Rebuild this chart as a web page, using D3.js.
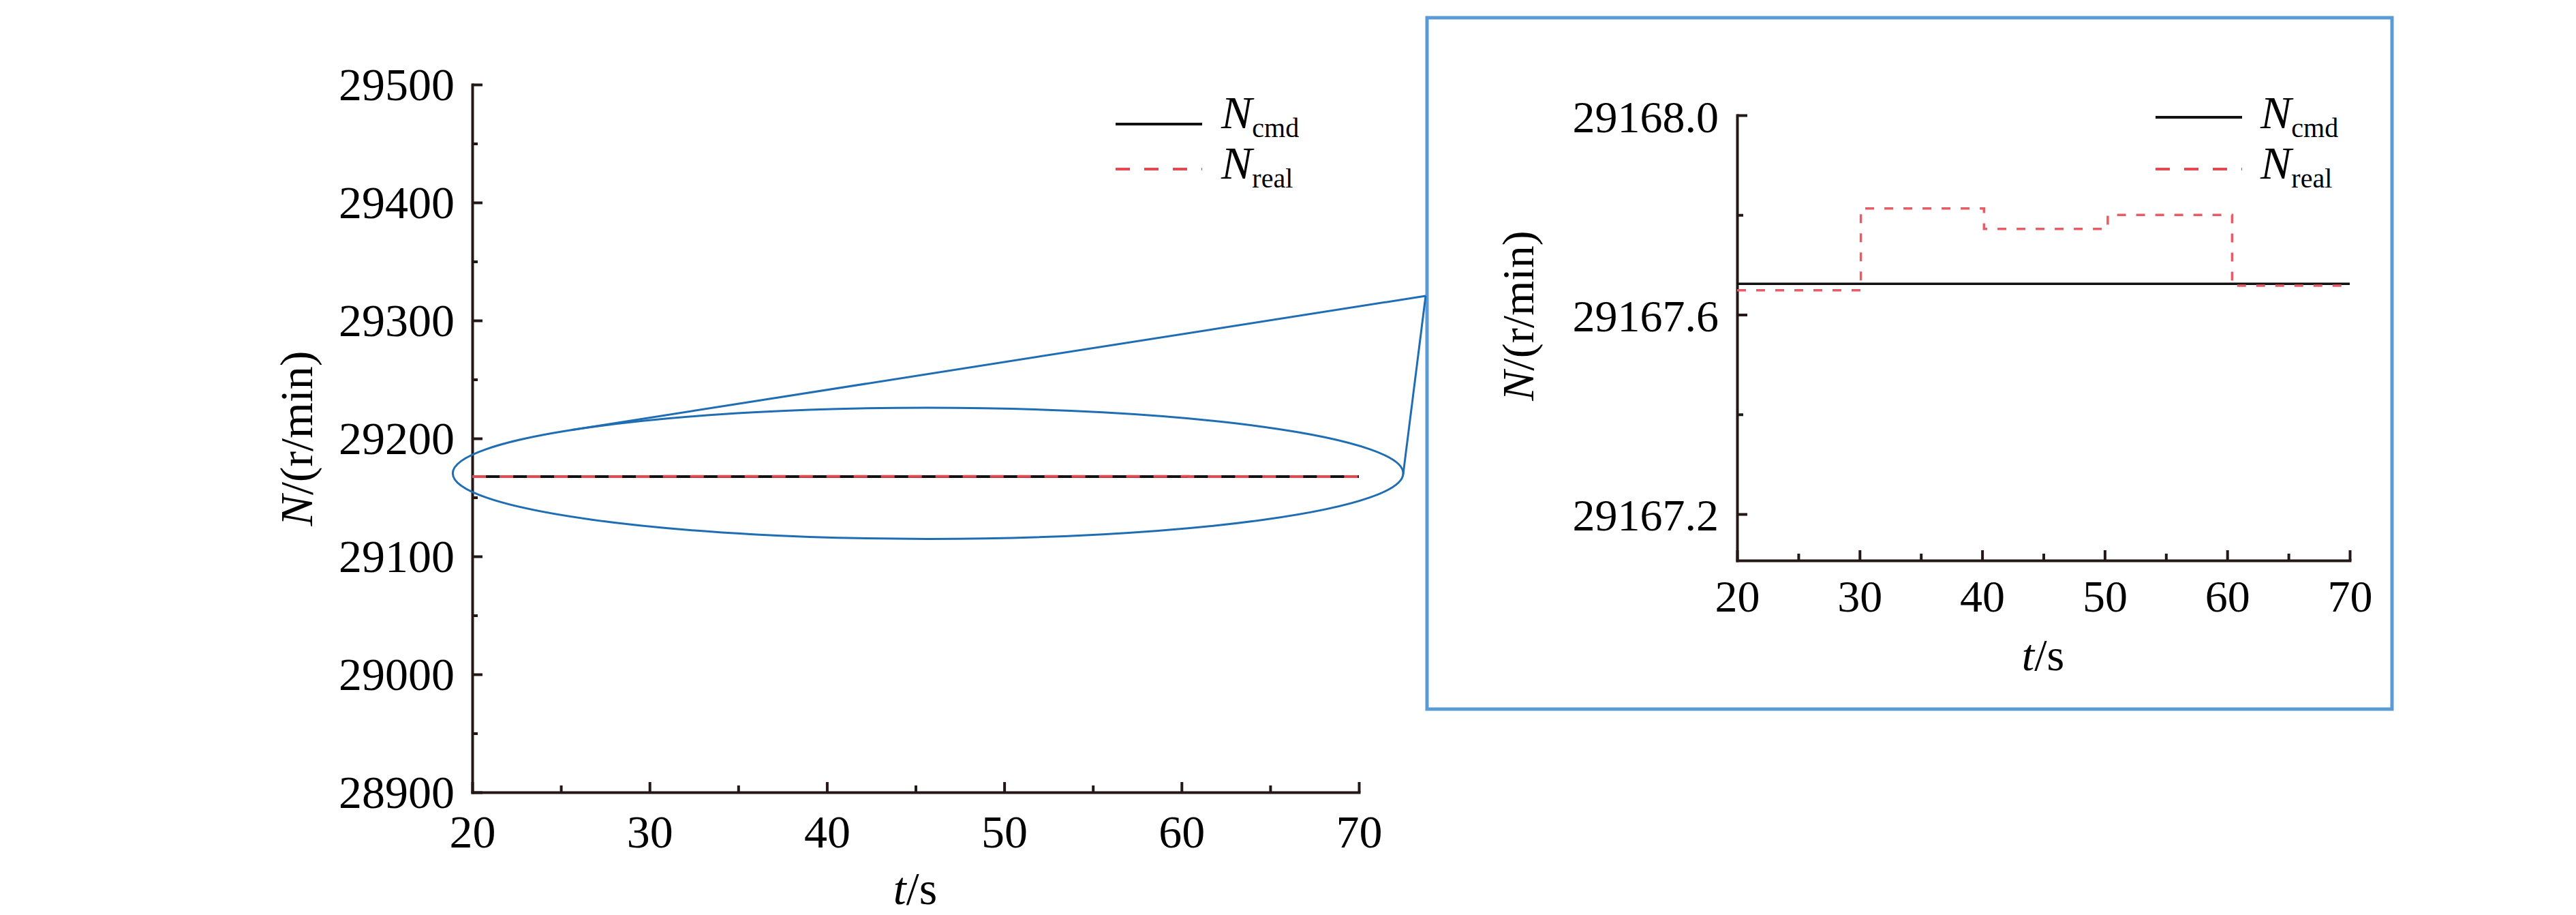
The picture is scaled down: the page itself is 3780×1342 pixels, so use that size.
<!DOCTYPE html>
<html>
<head>
<meta charset="utf-8">
<script src="https://cdn.jsdelivr.net/npm/d3@7/dist/d3.min.js"></script>
<style>
  body { margin: 0; background: #fff; }
</style>
</head>
<body>
<svg id="chart"></svg>
<script>
// data
const timeCmd = [20, 70];
const speedCmd = [29167.662, 29167.662];
const timeReal = [20, 30.1, 40.15, 50.25, 60.4, 70];
const speedReal = [29167.649, 29167.813, 29167.772, 29167.800, 29167.658, 29167.658];

const xTicks = [20, 30, 40, 50, 60, 70];
const xMinor = [25, 35, 45, 55, 65];
const mainYTicks = [28900, 29000, 29100, 29200, 29300, 29400, 29500];
const mainYMinor = [28950, 29050, 29150, 29250, 29350, 29450];
const insetYTicks = [29167.2, 29167.6, 29168.0];
const insetYMinor = [29167.4, 29167.8];

const seriesNames = ['N', 'N'];
const seriesSubs = ['cmd', 'real'];

// zoom ellipse in data units (main chart)
const zoomCenter = [45.7, 29170.4];
const zoomRadius = [26.8, 55.6];

const W = 3780, H = 1342;
const FONT = '"Liberation Serif", "Times New Roman", Times, "DejaVu Serif", serif';
const AXIS = '#231815';
const RED = '#e5484f';
const BLUE = '#1f6db3';

const svg = d3.select('#chart').attr('width', W).attr('height', H);

const cmdData = timeCmd.map((t, i) => ({t: t, v: speedCmd[i]}));
const realData = timeReal.map((t, i) => ({t: t, v: speedReal[i]}));

function drawPanel(cfg) {
    const xs = d3.scaleLinear().domain([20, 70]).range(cfg.xr);
    const ys = d3.scaleLinear().domain(cfg.yd).range(cfg.yr);
    const g = svg.append('g');

    // minor ticks first
    g.append('g')
        .attr('transform', `translate(0, ${cfg.yr[0]})`)
        .call(d3.axisBottom(xs).tickValues(xMinor).tickSize(-cfg.minorX).tickFormat(''))
        .call(a => a.select('.domain').remove())
        .call(a => a.selectAll('line').attr('stroke', AXIS).attr('stroke-width', 4));

    g.append('g')
        .attr('transform', `translate(${cfg.xr[0]}, 0)`)
        .call(d3.axisLeft(ys).tickValues(cfg.yMinor).tickSize(-cfg.minorY).tickFormat(''))
        .call(a => a.select('.domain').remove())
        .call(a => a.selectAll('line').attr('stroke', AXIS).attr('stroke-width', 4));

    const xa = g.append('g')
        .attr('transform', `translate(0, ${cfg.yr[0]})`)
        .call(d3.axisBottom(xs).tickValues(xTicks).tickSize(-cfg.major).tickSizeOuter(0));
    xa.selectAll('text')
        .attr('y', cfg.xLabelBase).attr('dy', null);

    const ya = g.append('g')
        .attr('transform', `translate(${cfg.xr[0]}, 0)`)
        .call(d3.axisLeft(ys).tickValues(cfg.yTicks).tickSize(-cfg.major).tickSizeOuter(0)
            .tickFormat(cfg.fmt));
    ya.selectAll('text')
        .attr('x', -cfg.yLabelGap).attr('dy', null).attr('y', cfg.yLabelBase);

    [xa, ya].forEach(a => {
        a.attr('font-family', FONT).attr('font-size', cfg.font);
        a.select('.domain').attr('stroke', AXIS).attr('stroke-width', 4)
            .attr('stroke-linecap', 'square');
        a.selectAll('line').attr('stroke', AXIS).attr('stroke-width', 4);
        a.selectAll('text').attr('fill', '#000')
            .style('font-family', FONT).style('font-size', cfg.font + 'px');
    });

    // axis titles
    const xt = g.append('text')
        .attr('x', cfg.xTitle[0]).attr('y', cfg.xTitle[1])
        .attr('text-anchor', 'middle')
        .style('font-family', FONT)
        .style('font-size', cfg.font + 'px');
    xt.append('tspan').style('font-style', 'italic').text('t');
    xt.append('tspan').text('/s');

    const yt = g.append('text')
        .attr('transform', `translate(${cfg.yTitle[0]}, ${cfg.yTitle[1]}) rotate(-90)`)
        .attr('text-anchor', 'middle')
        .style('font-family', FONT)
        .style('font-size', cfg.font + 'px');
    yt.append('tspan').style('font-style', 'italic').text('N');
    yt.append('tspan').text('/(r/min)');

    // lines
    const line = d3.line().x(d => xs(d.t)).y(d => ys(d.v)).curve(d3.curveStepAfter);

    g.append('path').datum(cmdData)
        .attr('d', line).attr('fill', 'none')
        .attr('stroke', '#111').attr('stroke-width', cfg.lw);

    g.append('path').datum(realData)
        .attr('d', line).attr('fill', 'none')
        .attr('stroke', cfg.red).attr('stroke-width', cfg.lw)
        .attr('stroke-dasharray', cfg.dash);

    // legend
    const lg = g.append('g');
    [0, 1].forEach(i => {
        lg.append('line')
            .attr('x1', cfg.legX[0]).attr('x2', cfg.legX[1])
            .attr('y1', cfg.legY[i]).attr('y2', cfg.legY[i])
            .attr('stroke', i === 0 ? '#111' : RED)
            .attr('stroke-width', 4)
            .attr('stroke-dasharray', i === 0 ? null : '21,21');
        const t = lg.append('text')
            .attr('x', cfg.legText).attr('y', cfg.legBase[i])
            .style('font-family', FONT)
            .style('font-size', '68px');
        t.append('tspan').style('font-style', 'italic').text(seriesNames[i]);
        t.append('tspan').attr('dy', 13).style('font-size', '40px').text(seriesSubs[i]);
    });

    return {xs: xs, ys: ys};
}

const main = drawPanel({
    xr: [693, 1994], yr: [1162, 124], yd: [28900, 29500],
    yTicks: mainYTicks, yMinor: mainYMinor, fmt: d3.format('d'),
    major: 15, minorX: 10, minorY: 8,
    font: 68, xLabelBase: 81, yLabelGap: 26, yLabelBase: 22,
    xTitle: [1343, 1326], yTitle: [458, 643],
    lw: 4, dash: '20,20', red: RED,
    legX: [1637, 1764], legY: [182, 248], legText: 1792, legBase: [188, 262]
});

drawPanel({
    xr: [2549, 3448], yr: [822, 169], yd: [29167.107, 29168.0],
    yTicks: insetYTicks, yMinor: insetYMinor, fmt: d3.format('.1f'),
    major: 15, minorX: 10, minorY: 9,
    font: 66, xLabelBase: 75, yLabelGap: 27, yLabelBase: 24,
    xTitle: [2998, 983], yTitle: [2250, 463],
    lw: 3.5, dash: '13,15', red: '#ea5c65',
    legX: [3163, 3290], legY: [172, 248], legText: 3317, legBase: [188, 262]
});

// inset frame
const box = {x: 2094, y: 26, w: 1416, h: 1014};
svg.append('rect')
    .attr('x', box.x).attr('y', box.y).attr('width', box.w).attr('height', box.h)
    .attr('fill', 'none').attr('stroke', '#5b9bd5').attr('stroke-width', 5);

// zoom ellipse and connector lines
const cx = main.xs(zoomCenter[0]), cy = main.ys(zoomCenter[1]);
const rx = main.xs(zoomCenter[0] + zoomRadius[0]) - cx;
const ry = cy - main.ys(zoomCenter[1] + zoomRadius[1]);

svg.append('ellipse')
    .attr('cx', cx).attr('cy', cy).attr('rx', rx).attr('ry', ry)
    .attr('fill', 'none').attr('stroke', BLUE).attr('stroke-width', 3);

const px = box.x - 2, py = 434;
const u = (px - cx) / rx, v = (py - cy) / ry;
const r = Math.sqrt(u * u + v * v);
const phi = Math.atan2(v, u), a = Math.acos(1 / r);
[phi + a, phi - a].forEach(th => {
    svg.append('line')
        .attr('x1', cx + rx * Math.cos(th)).attr('y1', cy + ry * Math.sin(th))
        .attr('x2', px).attr('y2', py)
        .attr('stroke', BLUE).attr('stroke-width', 3);
});
</script>
</body>
</html>
